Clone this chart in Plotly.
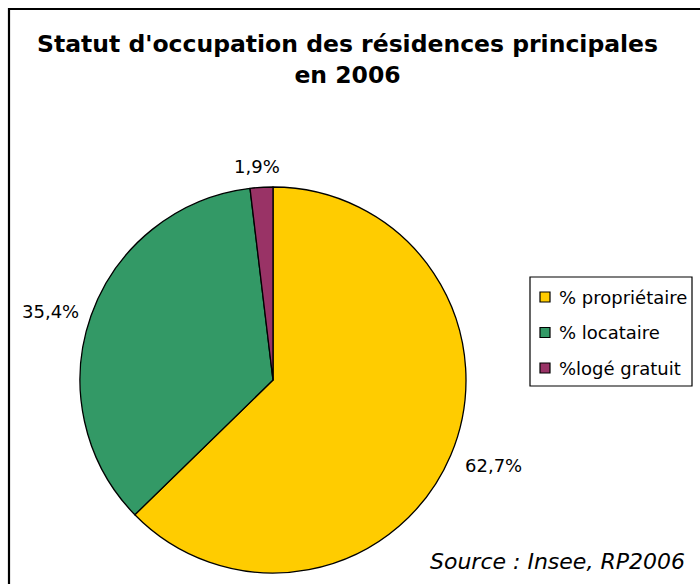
import math
import plotly.graph_objects as go

# Occupancy status of main residences, 2006
categories = ["% propriétaire", "% locataire", "%logé gratuit"]
shares = [62.7, 35.4, 1.9]
colors = ["#FFCC00", "#339966", "#993366"]

W, H = 700, 584
cx, cy, r = 273, 380, 193          # pie centre and radius in pixels
FONT = "DejaVu Sans"

fig = go.Figure(go.Pie(
    labels=categories,
    values=shares,
    sort=False,
    direction="clockwise",
    rotation=0,
    marker=dict(colors=colors, line=dict(color="black", width=1.3)),
    textinfo="none",
    hoverinfo="label+value",
    showlegend=False,
    domain=dict(x=[(cx - r) / W, (cx + r) / W],
                y=[1 - (cy + r) / H, 1 - (cy - r) / H]),
))

annotations = []
shapes = []

# Value labels placed outside each slice, along its mid-angle,
# with a small pixel nudge per label
total = sum(shares)
cum = 0.0
label_r = [240, 236, 214]
nudges = [(-1, 8), (0, -10), (-3, 0)]
for v, lr, (dx, dy) in zip(shares, label_r, nudges):
    mid = (cum + v / 2) / total * 2 * math.pi
    cum += v
    px = cx + lr * math.sin(mid)
    py = cy - lr * math.cos(mid)
    annotations.append(dict(
        x=px / W, y=1 - py / H, xref="paper", yref="paper",
        xshift=dx, yshift=dy,
        text=f"{v:.1f}%".replace(".", ","), showarrow=False,
        font=dict(family=FONT, size=18, color="black"),
        xanchor="center", yanchor="middle",
    ))

# Legend box
lx0, ly0, lx1, ly1 = 530, 277, 692, 386
shapes.append(dict(type="rect", xref="paper", yref="paper",
                   x0=lx0 / W, x1=lx1 / W, y0=1 - ly1 / H, y1=1 - ly0 / H,
                   line=dict(color="black", width=1.2), fillcolor="white"))
for i, (name, col) in enumerate(zip(categories, colors)):
    yc = 297 + i * 35.5
    shapes.append(dict(type="rect", xref="paper", yref="paper",
                       x0=540 / W, x1=550 / W,
                       y0=1 - (yc + 5) / H, y1=1 - (yc - 5) / H,
                       line=dict(color="black", width=1.2), fillcolor=col))
    annotations.append(dict(
        x=557 / W, y=1 - yc / H, xref="paper", yref="paper",
        text=name, showarrow=False, xanchor="left", yanchor="middle",
        font=dict(family=FONT, size=18, color="black"),
    ))

# Source note
annotations.append(dict(
    x=687 / W, y=1 - 561 / H, xref="paper", yref="paper",
    text="<i>Source : Insee, RP2006</i>", showarrow=False,
    xanchor="right", yanchor="middle",
    font=dict(family=FONT, size=22, color="black"),
))

# Title
annotations.append(dict(
    x=347 / W, y=1 - 60 / H, xref="paper", yref="paper",
    text="<b>Statut d'occupation des résidences principales<br>en 2006</b>",
    showarrow=False, xanchor="center", yanchor="middle",
    font=dict(family=FONT, size=23.5, color="black"),
))

# Chart frame (left and top edges visible)
shapes.append(dict(type="rect", xref="paper", yref="paper",
                   x0=9 / W, x1=720 / W, y0=-0.1, y1=1 - 9 / H,
                   line=dict(color="black", width=2.2), fillcolor="rgba(0,0,0,0)"))

fig.update_layout(
    width=W, height=H,
    margin=dict(l=0, r=0, t=0, b=0),
    paper_bgcolor="white",
    plot_bgcolor="white",
    annotations=annotations,
    shapes=shapes,
)

fig.write_html("out.html")
